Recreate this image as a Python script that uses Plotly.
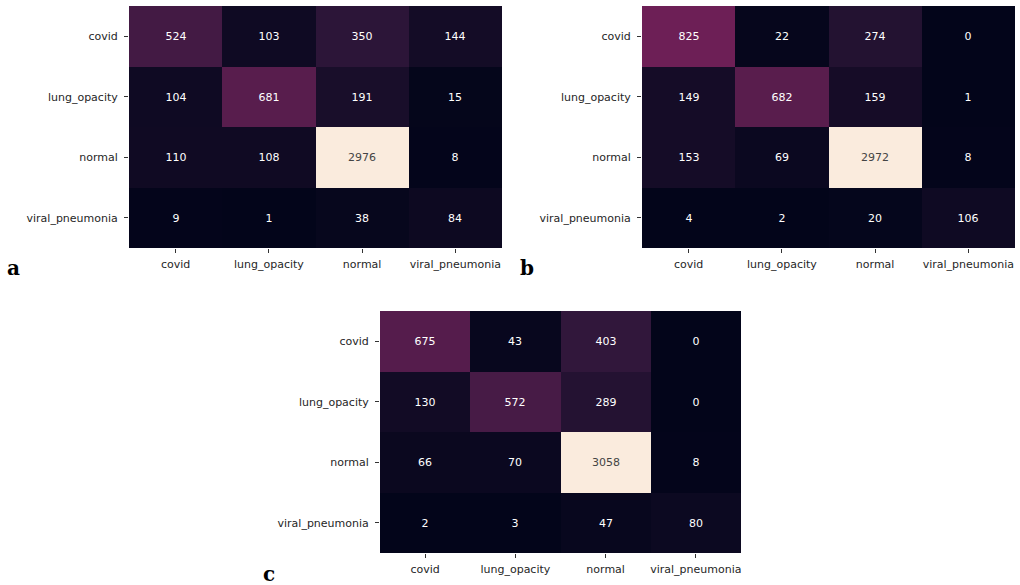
import plotly.graph_objects as go

classes = ["covid", "lung_opacity", "normal", "viral_pneumonia"]

cm_a = [[524, 103, 350, 144],
        [104, 681, 191, 15],
        [110, 108, 2976, 8],
        [9, 1, 38, 84]]
cm_b = [[825, 22, 274, 0],
        [149, 682, 159, 1],
        [153, 69, 2972, 8],
        [4, 2, 20, 106]]
cm_c = [[675, 43, 403, 0],
        [130, 572, 289, 0],
        [66, 70, 3058, 8],
        [2, 3, 47, 80]]
panel_letters = ["a", "b", "c"]

# seaborn "rocket" colormap samples
rocket = [[0.0, "#03051A"], [0.143, "#35193E"], [0.286, "#701F57"],
          [0.429, "#AD1759"], [0.571, "#E13342"], [0.714, "#F37651"],
          [0.857, "#F6B48F"], [1.0, "#FAEBDD"]]

W, H = 1020, 585
# pixel boxes: (left, right, top, bottom)
boxes = [(129, 502, 6, 248), (642, 1015, 6, 248), (380, 741, 311, 553)]
letter_pos = [(13, 268), (527, 268), (269, 574)]

fig = go.Figure()
for i, (cm, box) in enumerate(zip([cm_a, cm_b, cm_c], boxes)):
    sfx = "" if i == 0 else str(i + 1)
    zmax = max(max(r) for r in cm)
    zmin = min(min(r) for r in cm)
    fig.add_trace(go.Heatmap(
        z=cm, x=classes, y=classes, colorscale=rocket, zmin=zmin, zmax=zmax,
        showscale=False, xaxis="x" + sfx, yaxis="y" + sfx,
        texttemplate="%{z}", textfont=dict(size=11, family="DejaVu Sans"),
        xgap=0, ygap=0, hoverinfo="skip"))
    l, r, t, b = box
    ax = dict(domain=[l / W, r / W], anchor="y" + sfx, ticks="outside", ticklen=4,
              tickcolor="#333", ticklabelstandoff=2,
              tickfont=dict(size=11, family="DejaVu Sans", color="#262626"),
              showgrid=False, zeroline=False, showline=False, fixedrange=True)
    ay = dict(domain=[1 - b / H, 1 - t / H], anchor="x" + sfx, ticks="outside", ticklen=4,
              tickcolor="#333", ticklabelstandoff=4,
              tickfont=dict(size=11, family="DejaVu Sans", color="#262626"),
              autorange="reversed", showgrid=False, zeroline=False, showline=False,
              fixedrange=True)
    fig.update_layout(**{"xaxis" + sfx: ax, "yaxis" + sfx: ay})

annotations = []
for letter, (px, py) in zip(panel_letters, letter_pos):
    annotations.append(dict(text="<b>" + letter + "</b>", x=px / W, y=1 - py / H,
                            xref="paper", yref="paper", showarrow=False,
                            font=dict(size=20, family="DejaVu Serif", color="black"),
                            xanchor="center", yanchor="middle"))

fig.update_layout(width=W, height=H, margin=dict(l=0, r=0, t=0, b=0),
                  paper_bgcolor="white", plot_bgcolor="white",
                  annotations=annotations)

fig.write_html("out.html", config={"displayModeBar": False},
               post_script="document.body.style.margin='0px';document.body.style.overflow='hidden';")
